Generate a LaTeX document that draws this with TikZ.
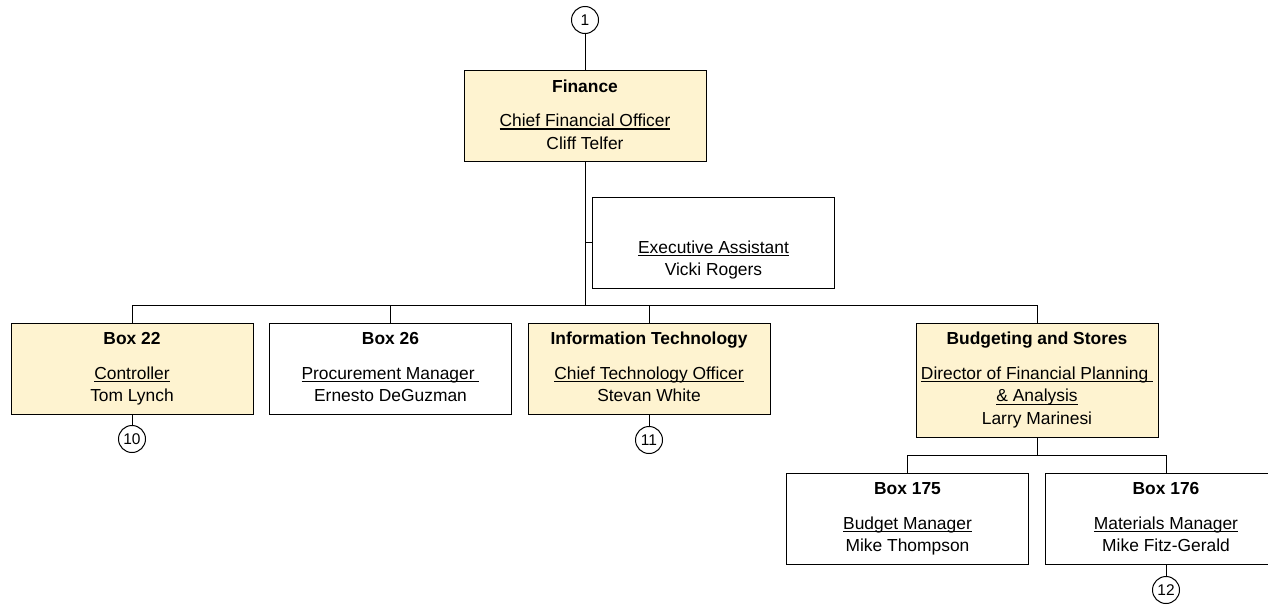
\documentclass[tikz,border=0pt]{standalone}
\usepackage{fontspec}
\setmainfont{Liberation Sans}
\definecolor{leadfill}{RGB}{254,243,208}
\newcommand{\jobtitle}[1]{\setbox0\hbox{#1}\rlap{\rule[-3pt]{\wd0}{1.2pt}}\box0}
\tikzstyle{unit}=[rectangle,draw=black,minimum width=242pt,minimum height=91pt,inner sep=0pt,align=center,font=\fontsize{17.4}{22.5}\selectfont]
\tikzstyle{lead}=[unit,fill=leadfill]
\tikzstyle{pageref}=[circle,draw=black,minimum size=27pt,inner sep=0pt,font=\fontsize{15.5}{17}\selectfont]

\begin{document}
\begin{tikzpicture}[x=1pt,y=-1pt,line width=1pt]
\useasboundingbox (0,0) rectangle (1268,605);

\node (c1) at (585,20) [pageref] {1};
\node (fin) at (585,116) [lead] {\strut\textbf{Finance}\\[12pt]\strut\jobtitle{Chief Financial Officer}\\\strut Cliff Telfer};
\node (exec) at (713.5,242.5) [unit] {\strut\\[12pt]\strut\jobtitle{Executive Assistant}\\\strut Vicki Rogers};

\node (box22) at (132,368.5) [lead] {\strut\textbf{Box 22}\\[12pt]\strut\jobtitle{Controller}\\\strut Tom Lynch};
\node (box26) at (390.5,368.5) [unit] {\strut\textbf{Box 26}\\[12pt]\strut\jobtitle{Procurement Manager\ }\\\strut Ernesto DeGuzman};
\node (it) at (649,368.5) [lead] {\strut\textbf{Information Technology}\\[12pt]\strut\jobtitle{Chief Technology Officer}\\\strut Stevan White};
\node (bud) at (1037,380) [lead,minimum height=114pt] {\strut\textbf{Budgeting and Stores}\\[12pt]\strut\jobtitle{Director of Financial Planning\ }\\\strut\jobtitle{\&~Analysis}\\\strut Larry Marinesi};

\node (box175) at (907.5,518.5) [unit] {\strut\textbf{Box 175}\\[12pt]\strut\jobtitle{Budget Manager}\\\strut Mike Thompson};
\node (box176) at (1166,518.5) [unit] {\strut\textbf{Box 176}\\[12pt]\strut\jobtitle{Materials Manager}\\\strut Mike Fitz-Gerald};

\node (c10) at (132,439) [pageref] {10};
\node (c11) at (649,440) [pageref] {11};
\node (c12) at (1166,590) [pageref] {12};

\coordinate (hub) at (585,305);
\coordinate (subhub) at (1037,455);

\draw (c1) -- (fin);
\draw (fin) -- (hub);
\draw (exec.west) -- (exec.west -| hub);
\foreach \n in {box22,box26,it,bud}
  \draw (hub) -| (\n.north);
\draw (bud) -- (subhub);
\foreach \n in {box175,box176}
  \draw (subhub) -| (\n.north);

\draw (box22) -- (c10);
\draw (it) -- (c11);
\draw (box176) -- (c12);
\end{tikzpicture}
\end{document}
